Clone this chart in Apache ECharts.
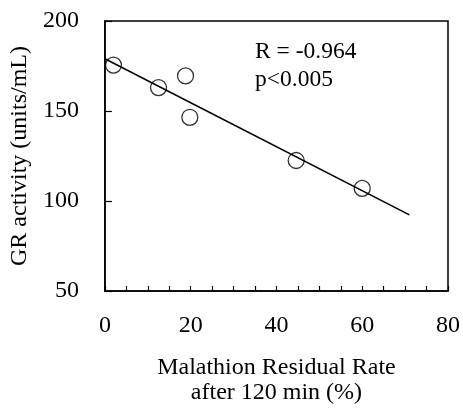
<!DOCTYPE html>
<html>
<head>
<meta charset="utf-8">
<script src="https://cdn.jsdelivr.net/npm/echarts@6/dist/echarts.min.js"></script>
<style>html,body{margin:0;padding:0;background:#fff;}#c{width:463px;height:410px;}</style>
</head>
<body>
<div id="c"></div>
<script>
var residualRate = [2, 12.5, 18.8, 19.8, 44.6, 60.0];
var grActivity = [175.5, 163, 169.5, 146.5, 122.5, 107];
var fitX = [0, 71];
var fitY = [179, 92.3];
var xTicks = [0, 20, 40, 60, 80];
var yTicks = [50, 100, 150, 200];
var statText = ['R = -0.964', 'p<0.005'];

var font = 'Liberation Serif, Times New Roman, serif';
var chart = echarts.init(document.getElementById('c'));
chart.setOption({
  animation: false,
  backgroundColor: '#fff',
  grid: {left: 103, right: 10, top: 21, bottom: 112, show: true, borderColor: '#000', borderWidth: 1.5, backgroundColor: 'transparent'},
  graphic: [{
    type: 'text', left: 255, top: 38,
    style: {text: statText.join('\n'), font: '23.5px ' + font, fill: '#000', lineHeight: 28}
  }],
  xAxis: {
    type: 'value', min: xTicks[0], max: xTicks[xTicks.length - 1], interval: 20,
    name: 'Malathion Residual Rate\nafter 120 min (%)', nameLocation: 'middle', nameGap: 64,
    nameTextStyle: {fontFamily: font, fontSize: 24, color: '#000', lineHeight: 25},
    axisLine: {lineStyle: {color: '#000', width: 1.5}},
    axisTick: {inside: true, length: 5, lineStyle: {color: '#000', width: 1.2}},
    minorTick: {show: true, splitNumber: 4, length: 5, lineStyle: {color: '#000', width: 1.2}},
    axisLabel: {fontFamily: font, fontSize: 24, color: '#000', margin: 23},
    splitLine: {show: false}
  },
  yAxis: {
    type: 'value', min: yTicks[0], max: yTicks[yTicks.length - 1], interval: 50,
    name: 'GR activity (units/mL)', nameLocation: 'middle', nameGap: 71,
    nameTextStyle: {fontFamily: font, fontSize: 24, color: '#000'},
    axisLine: {lineStyle: {color: '#000', width: 1.5}},
    axisTick: {inside: true, length: 7, lineStyle: {color: '#000', width: 1.2}},
    axisLabel: {fontFamily: font, fontSize: 24, color: '#000', margin: 26},
    splitLine: {show: false}
  },
  series: [
    {
      type: 'line', data: fitX.map(function (x, i) { return [x, fitY[i]]; }),
      symbol: 'none', lineStyle: {color: '#000', width: 1.6}, z: 2
    },
    {
      type: 'scatter', data: residualRate.map(function (x, i) { return [x, grActivity[i]]; }),
      symbol: 'circle', symbolSize: 16,
      itemStyle: {color: 'rgba(255,255,255,0)', borderColor: '#000', borderWidth: 1.3}, z: 3
    }
  ]
});
</script>
</body>
</html>
